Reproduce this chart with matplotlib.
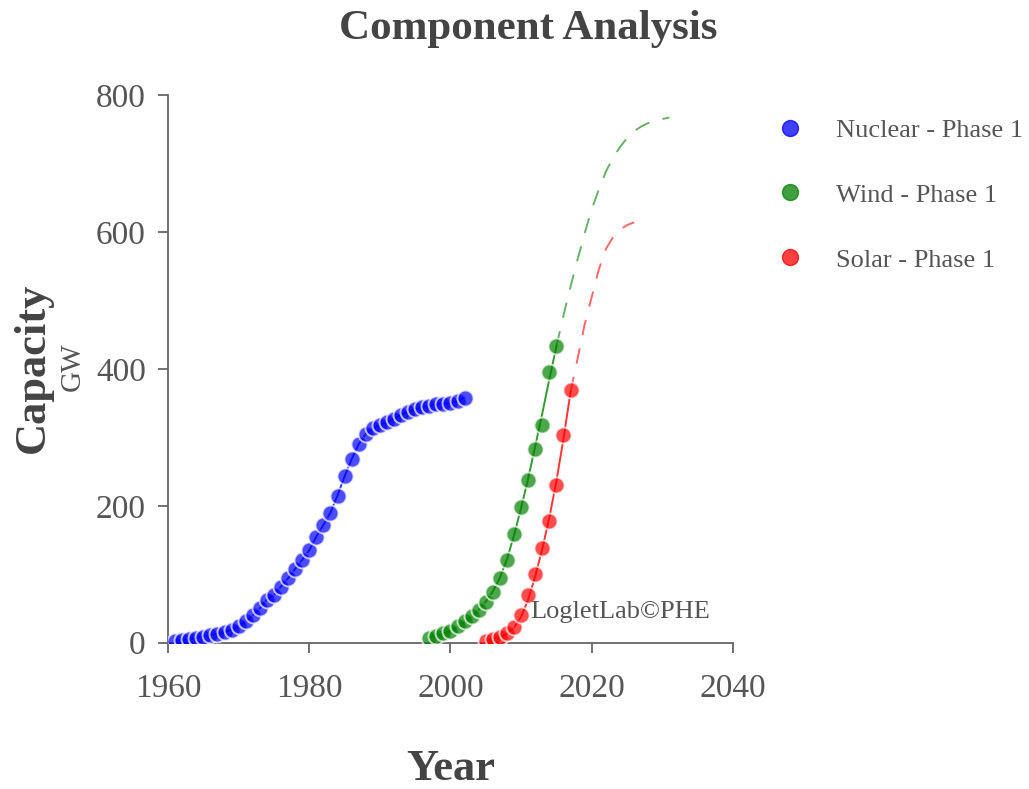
import matplotlib
matplotlib.use("Agg")
import matplotlib.pyplot as plt
from matplotlib.lines import Line2D

plt.rcParams['font.family'] = ['Liberation Serif', 'DejaVu Serif']

# observed capacity, GW
nuclear_years = list(range(1961, 2003))
nuclear_gw = [3, 4, 5, 7, 9, 11, 13, 16, 19, 24, 31, 40, 50, 63, 70, 82, 94,
              108, 121, 135, 155, 172, 190, 215, 243, 268, 290, 305, 313, 318,
              322, 327, 333, 337, 341, 344, 346, 348, 349, 350, 353, 358]

wind_years = list(range(1997, 2016))
wind_gw = [7.5, 10, 13.6, 17.4, 24, 31, 39, 48, 59, 74, 94, 121, 159, 198,
           238, 283, 318, 396, 433]

solar_years = list(range(2005, 2018))
solar_gw = [3, 5, 8, 14, 23, 40, 70, 100, 138, 178, 230, 303, 369]

# fitted logistic curves
wind_fit_years = list(range(1997, 2032))
wind_fit_gw = [8, 10, 13, 17, 23, 30, 38, 48, 60, 75, 95, 122, 157, 197, 240,
               287, 335, 385, 433, 478, 520, 560, 598, 633, 662, 688, 708,
               724, 737, 747, 754, 759, 762, 765, 767]

solar_fit_years = list(range(2005, 2027))
solar_fit_gw = [3, 5, 8, 13, 22, 38, 63, 97, 137, 183, 236, 298, 366, 415,
                465, 505, 545, 575, 592, 603, 610, 614]

labels = ['Nuclear - Phase 1', 'Wind - Phase 1', 'Solar - Phase 1']
colors = ['blue', 'green', 'red']

fig = plt.figure(figsize=(10.29, 7.89), dpi=100)
ax = fig.add_axes([0.1633, 0.1854, 0.5490, 0.6942])

def draw_fit(years, vals, last_year, color):
    solid_x = [y for y in years if y <= last_year]
    solid_y = vals[:len(solid_x)]
    ax.plot(solid_x, solid_y, color=color, lw=1.4, alpha=0.8, zorder=2)
    k = len(solid_x) - 1
    ax.plot(years[k:], vals[k:], color=color, lw=1.4, alpha=0.6,
            dashes=(8, 7), zorder=2)

ax.plot(nuclear_years, nuclear_gw, color='blue', lw=1.4, alpha=0.8, zorder=2)
draw_fit(wind_fit_years, wind_fit_gw, wind_years[-1], 'green')
draw_fit(solar_fit_years, solar_fit_gw, solar_years[-1], 'red')

for xs, ys, c in [(nuclear_years, nuclear_gw, 'blue'),
                  (wind_years, wind_gw, 'green'),
                  (solar_years, solar_gw, 'red')]:
    ax.plot(xs, ys, 'o', ms=11.5, mfc=c, mec=(1, 1, 1, 0.6), mew=1.4,
            alpha=0.7, zorder=3)

ax.set_xlim(1960, 2040)
ax.set_ylim(0, 800)
ax.set_xticks([1960, 1980, 2000, 2020, 2040])
ax.set_yticks([0, 200, 400, 600, 800])
for s in ['top', 'right']:
    ax.spines[s].set_visible(False)
for s in ['left', 'bottom']:
    ax.spines[s].set_color('#666666')
    ax.spines[s].set_linewidth(1.3)
ax.tick_params(length=7, width=1.3, color='#666666', labelcolor='#555555',
               labelsize=24)
ax.tick_params(axis='x', pad=15)
ax.tick_params(axis='y', pad=9)

ax.text(0.641, 0.056, 'LogletLab\u00a9PHE', transform=ax.transAxes,
        fontsize=19, color='#555555', ha='left', va='center')

fig.text(528 / 1029, 1 - 29 / 789, 'Component Analysis', fontsize=31,
         fontweight='bold', color='#444444', ha='center', va='center')
fig.text(451 / 1029, 1 - 769 / 789, 'Year', fontsize=32, fontweight='bold',
         color='#444444', ha='center', va='center')
fig.text(33 / 1029, 1 - 368 / 789, 'Capacity', fontsize=32, fontweight='bold',
         color='#444444', ha='center', va='center', rotation=90)
fig.text(73 / 1029, 1 - 367 / 789, 'GW', fontsize=21, color='#555555',
         ha='center', va='center', rotation=90)

handles = [Line2D([], [], marker='o', ls='', ms=11.5, color=c, alpha=0.75)
           for c in colors]
fig.legend(handles, labels, loc='upper left', bbox_to_anchor=(0.755, 0.850),
           bbox_transform=fig.transFigure, frameon=False, fontsize=19,
           labelcolor='#555555', labelspacing=1.57, handlelength=1,
           handletextpad=1.25, borderpad=0, borderaxespad=0)

fig.savefig('out.png', dpi=100)
